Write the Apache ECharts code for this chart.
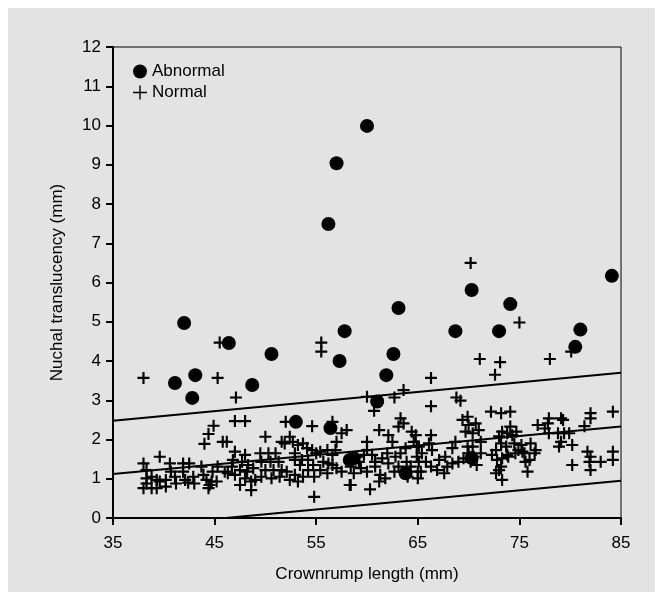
<!DOCTYPE html>
<html><head><meta charset="utf-8">
<script src="https://cdn.jsdelivr.net/npm/echarts@6/dist/echarts.min.js"></script>
<style>
html,body{margin:0;padding:0;background:#ffffff;width:663px;height:600px;overflow:hidden}
#main{position:absolute;left:8px;top:8px;width:647px;height:584px;background:#e3e3e3}
</style></head>
<body><div id="main"></div>
<script>
// Data
const xTicks = [35, 45, 55, 65, 75, 85];
const yTicks = [0,1,2,3,4,5,6,7,8,9,10,11,12];

const abnormalPoints = [
 [41.1,3.44],[42.0,4.97],[43.1,3.64],[42.8,3.06],[46.4,4.46],[48.7,3.39],[50.6,4.18],
 [53.0,2.45],[56.2,7.49],[57.0,9.04],[57.3,4.0],[57.8,4.76],[56.4,2.29],[58.3,1.48],[58.7,1.52],
 [60.0,9.99],[61.0,2.97],[61.9,3.64],[62.6,4.18],[63.1,5.35],[63.8,1.14],[68.7,4.76],
 [70.3,5.81],[70.3,1.53],[73.0,4.76],[74.1,5.45],[80.5,4.36],[81.0,4.8],[84.1,6.17]
];

const normalPoints = [
 // upper / sparse
 [38.0,3.57],[45.3,3.57],[45.5,4.47],[47.1,3.07],[47.0,2.47],[48.0,2.47],[55.5,4.47],[55.5,4.24],
 [44.9,2.35],[44.4,2.14],[44.0,1.89],[45.8,1.94],[46.2,1.94],[39.6,1.56],[50.0,2.07],[52.0,2.45],
 [54.6,2.34],[56.6,2.45],[58.0,2.24],[54.8,0.54],[58.3,0.84],[60.0,3.09],[70.2,6.5],
 [75.0,4.98],[71.1,4.05],[73.1,3.97],[72.6,3.65],[78.0,4.05],[80.1,4.24],[66.3,3.57],[63.6,3.26],
 [62.7,3.07],[66.3,2.85],[68.8,3.07],[69.2,2.99],[60.7,2.73],[74.1,2.33],
 // 37-45
 [38.0,1.39],[38.3,1.22],[38.8,1.05],[39.3,0.97],[38.3,0.88],[38.0,0.76],[38.8,0.76],[39.3,0.76],
 [39.6,0.93],[40.2,0.97],[40.2,0.80],[40.6,1.39],[40.7,1.18],[41.1,1.05],[41.2,0.88],[41.9,1.39],
 [41.9,1.18],[42.1,0.97],[42.4,0.9],[42.5,1.39],[42.9,1.05],[43.0,0.88],[43.7,1.31],[43.9,1.1],
 [44.2,0.97],[44.7,0.93],[44.4,0.76],[44.5,0.84],[44.8,1.18],[38.3,1.01],
 // 45-55
 [51.9,1.9],[52.4,2.07],[52.7,1.94],[51.6,1.94],[53.2,1.86],[53.7,1.9],[54.1,1.78],[54.6,1.73],[55.0,1.65],
 [47.0,1.69],[48.0,1.61],[46.8,1.48],[47.7,1.43],[48.3,1.35],[46.7,1.31],[47.5,1.22],[48.2,1.18],
 [48.8,1.27],[47.0,1.10],[48.0,1.01],[48.6,0.93],[49.0,0.97],[46.0,1.18],[45.3,1.31],[46.3,1.14],
 [45.2,0.93],[47.5,0.84],[48.6,0.71],
 [49.5,1.65],[50.3,1.65],[51.0,1.65],[49.6,1.43],[50.5,1.43],[51.3,1.43],[50.0,1.22],[50.8,1.22],
 [51.6,1.22],[49.6,1.05],[50.6,1.01],[51.4,1.05],[52.1,1.18],[52.4,0.97],[52.9,1.10],[53.2,0.93],
 [53.7,1.05],[54.2,1.22],[54.7,1.35],[54.8,1.05],[52.9,1.48],[53.6,1.48],[54.2,1.48],[52.9,1.65],[53.4,1.35],
 // 55-65
 [57.5,2.16],[57.0,1.94],[61.2,2.24],[62.1,2.11],[62.5,1.94],[63.3,2.54],[63.6,2.41],[63.1,2.33],
 [64.4,2.2],[64.8,2.11],[64.6,1.94],[64.9,1.82],
 [60.0,1.94],[60.0,1.73],[59.7,1.61],[60.5,1.61],[59.2,1.43],[60.8,1.43],[61.5,1.52],[62.0,1.65],
 [62.1,1.39],[62.8,1.56],[63.3,1.65],[63.8,1.78],[63.9,1.43],[64.9,1.56],
 [55.4,1.69],[56.1,1.73],[56.6,1.61],[55.7,1.43],[56.6,1.35],[55.4,1.22],[56.1,1.14],[57.0,1.27],
 [57.5,1.18],[58.4,1.31],[58.7,1.14],[59.4,1.27],[60.0,1.18],[60.8,1.31],[61.3,1.10],[61.8,1.01],
 [62.7,1.18],[63.1,1.31],[64.3,1.31],[65.0,1.18],[64.0,1.05],[65.0,1.01],[56.2,1.39],[56.9,1.73],[59.0,1.56],
 [58.4,0.84],[60.3,0.73],[61.2,0.93],
 // 65-75
 [72.2,2.71],[73.2,2.67],[74.1,2.71],
 [69.4,2.50],[69.9,2.58],[70.0,2.37],[70.7,2.41],[71.0,2.24],[70.4,2.16],[69.7,2.2],
 [66.3,2.11],[66.1,1.90],[66.4,1.73],[65.1,1.82],[65.4,1.65],[65.8,1.43],[66.3,1.31],[66.9,1.22],
 [67.6,1.14],[65.3,1.18],[65.1,1.43],
 [67.7,1.56],[68.4,1.78],[68.7,1.94],[69.0,1.43],[69.5,1.52],[70.0,1.65],[70.5,1.56],[70.2,1.43],
 [70.8,1.35],[71.2,1.65],[69.9,1.82],[70.4,1.82],[71.2,1.94],[68.4,1.39],[67.9,1.31],[67.1,1.48],
 [73.0,2.08],[73.3,2.2],[73.8,2.16],[74.3,2.11],[74.7,2.2],[72.7,1.73],[73.2,1.90],[73.7,1.82],
 [74.5,1.90],[74.9,1.73],[72.3,1.61],[72.8,1.48],[73.3,1.52],[73.8,1.61],[73.2,1.31],[73.0,1.22],
 [72.7,1.14],[73.3,0.97],[73.9,1.56],[74.6,1.65],[75.3,1.69],
 // 75-85
 [84.2,2.71],[82.0,2.67],[82.0,2.54],[77.9,2.54],[79.1,2.54],[79.3,2.5],[76.8,2.37],[77.5,2.28],
 [77.8,2.41],[81.4,2.34],[77.9,2.16],[78.8,2.16],[79.4,2.16],[79.9,2.16],[79.1,1.94],[78.9,1.82],
 [80.2,1.86],[75.2,1.86],[76.1,1.90],[76.6,1.73],[75.5,1.65],[76.0,1.48],[76.5,1.65],[75.8,1.18],
 [75.6,1.43],[80.2,1.35],[81.7,1.69],[82.0,1.56],[81.9,1.43],[82.0,1.22],[83.0,1.43],[84.2,1.69],[84.2,1.48]
];

// regression line and limits (endpoints)
const upperLine = [[35,2.48],[85,3.70]];
const meanLine = [[35,1.12],[85,2.33]];
const lowerLine = [[46.1,0],[85,0.95]];

const PLUS = 'path://M5,0h2.2v5h5v2.2h-5v5h-2.2v-5h-5v-2.2h5z';
const PLUS_THIN = 'path://M5.4,0h1.2v5.4h5.4v1.2h-5.4v5.4h-1.2v-5.4h-5.4v-1.2h5.4z';
const FONT = '"Liberation Sans", Arial, Helvetica, sans-serif';

const chart = echarts.init(document.getElementById('main'), null, {renderer:'canvas'});
const lineSeries = (d) => ({
  type:'line', data:d, symbol:'none', silent:true, z:1,
  lineStyle:{color:'#000', width:2}
});
chart.setOption({
  animation:false,
  backgroundColor:'#e3e3e3',
  textStyle:{fontFamily:FONT},
  grid:{left:105, top:39, right:34, bottom:74, show:true, borderColor:'#000', borderWidth:1, backgroundColor:'transparent'},
  legend:{
    orient:'vertical', left:120, top:50, itemGap:4, itemWidth:14, itemHeight:14,
    textStyle:{fontSize:17, color:'#000', fontFamily:FONT},
    data:[{name:'Abnormal', icon:'circle'}, {name:'Normal', icon:PLUS_THIN}]
  },
  xAxis:{
    type:'value', min:35, max:85, interval:10,
    name:'Crownrump length (mm)', nameLocation:'middle', nameGap:48,
    nameTextStyle:{fontSize:17, color:'#000', fontFamily:FONT},
    axisLine:{show:true, onZero:false, lineStyle:{color:'#000', width:2}},
    axisTick:{show:true, length:7, lineStyle:{color:'#000', width:2}},
    axisLabel:{fontSize:17, color:'#000', margin:17, fontFamily:FONT},
    splitLine:{show:false}
  },
  yAxis:{
    type:'value', min:0, max:12, interval:1,
    name:'Nuchal translucency (mm)', nameLocation:'middle', nameGap:47, nameRotate:90,
    nameTextStyle:{fontSize:17, color:'#000', fontFamily:FONT},
    axisLine:{show:true, onZero:false, lineStyle:{color:'#000', width:2}},
    axisTick:{show:true, length:7, lineStyle:{color:'#000', width:2}},
    axisLabel:{fontSize:17, color:'#000', margin:12, fontFamily:FONT},
    splitLine:{show:false}
  },
  series:[
    lineSeries(upperLine), lineSeries(meanLine), lineSeries(lowerLine),
    {name:'Normal', type:'scatter', data:normalPoints, symbol:PLUS, symbolSize:12, z:2,
     itemStyle:{color:'#000', opacity:1}},
    {name:'Abnormal', type:'scatter', data:abnormalPoints, symbol:'circle', symbolSize:14, z:3,
     itemStyle:{color:'#000', opacity:1}}
  ]
});
</script></body></html>
